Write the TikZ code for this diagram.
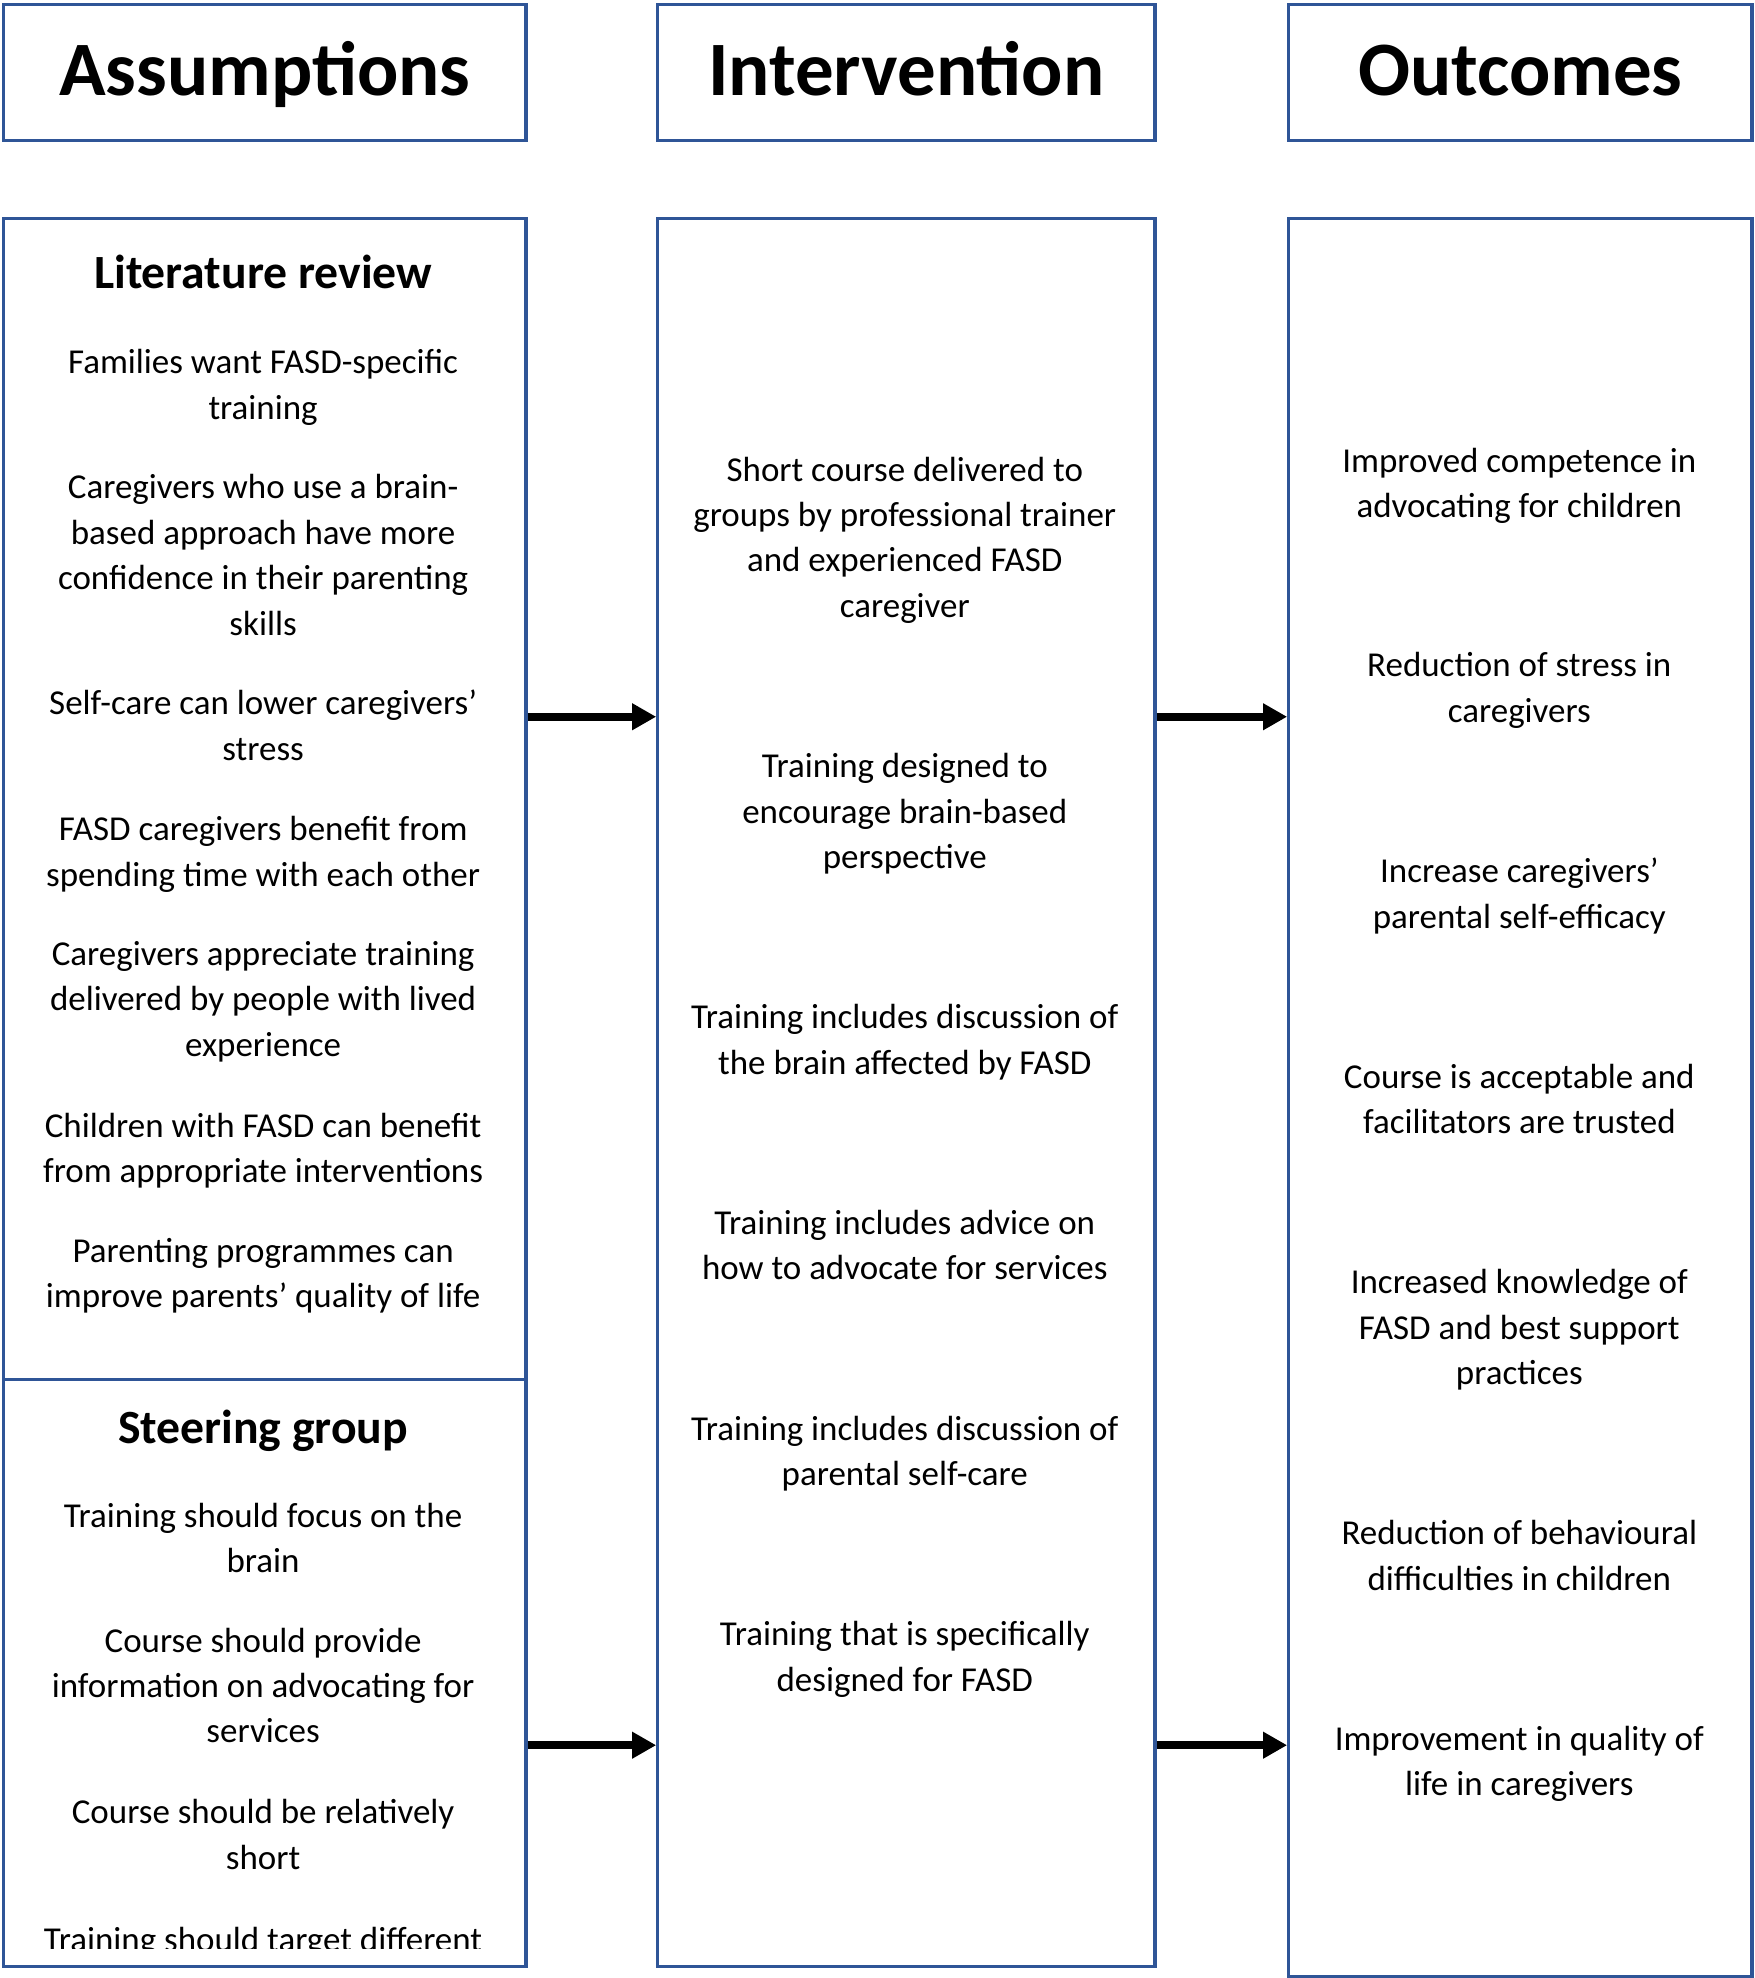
\documentclass[tikz,border=0pt]{standalone}
\usepackage{fontspec}
\setmainfont{Carlito}
\usetikzlibrary{arrows.meta}
\definecolor{bl}{HTML}{2F5597}
\begin{document}
\begin{tikzpicture}[x=0.5pt,y=-0.5pt,
 box/.style={draw=bl,line width=1.3pt,rectangle,inner sep=0pt,anchor=north west},
 head/.style={font=\fontsize{30.5}{36}\selectfont\bfseries,text height=20pt,text depth=1.4pt},
 ttl/.style={font=\fontsize{18.9}{23}\selectfont\bfseries,anchor=base,inner sep=0pt},
 txt/.style={font=\fontsize{13.85}{18}\selectfont,align=center,anchor=north,inner sep=0pt,execute at begin node=\strut},
 arr/.style={line width=3.2pt,-{Triangle[length=9.5pt,width=10pt]}}]
\useasboundingbox (0,0) rectangle (1390,1567.5);
% headers
\node[box,head,minimum width=207pt,minimum height=54pt] (hA) at (1.5,2) {Assumptions};
\node[box,head,minimum width=197pt,minimum height=54pt] (hI) at (520,2) {Intervention};
\node[box,head,minimum width=183.5pt,minimum height=54pt] (hO) at (1020,2) {Outcomes};
% column boxes
\node[box,minimum width=207pt,minimum height=460pt] (lit) at (1.5,172) {};
\node[box,minimum width=207pt,minimum height=232.5pt] (steer) at (1.5,1092) {};
\node[box,minimum width=197pt,minimum height=692.5pt] (inter) at (520,172) {};
\node[box,minimum width=183.5pt,minimum height=696.5pt] (outc) at (1020,172) {};
% left column
\node[ttl] (tLit) at (208.5,229) {Literature review};
\node[txt] (l1) at (208.5,276.6) {Families want FASD-specific\\training};
\node[txt] (l2) at (208.5,375.6) {Caregivers who use a brain-\\based approach have more\\confidence in their parenting\\skills};
\node[txt] (l3) at (208.5,546.6) {Self-care can lower caregivers’\\stress};
\node[txt] (l4) at (208.5,646.6) {FASD caregivers benefit from\\spending time with each other};
\node[txt] (l5) at (208.5,745.6) {Caregivers appreciate training\\delivered by people with lived\\experience};
\node[txt] (l6) at (208.5,881.6) {Children with FASD can benefit\\from appropriate interventions};
\node[txt] (l7) at (208.5,980.6) {Parenting programmes can\\improve parents’ quality of life};
\node[ttl] (tSt) at (208.5,1144) {Steering group};
\node[txt] (s1) at (208.5,1190.6) {Training should focus on the\\brain};
\node[txt] (s2) at (208.5,1289.6) {Course should provide\\information on advocating for\\services};
\node[txt] (s3) at (208.5,1425.6) {Course should be relatively\\short};
\begin{scope}
\clip (2,1092) rectangle (415,1544);
\node[txt] (s4) at (208.5,1520.6) {Training should target different};
\end{scope}
% middle column
\node[txt] (m1) at (717,361.6) {Short course delivered to\\groups by professional trainer\\and experienced FASD\\caregiver};
\node[txt] (m2) at (717,596.6) {Training designed to\\encourage brain-based\\perspective};
\node[txt] (m3) at (717,795.6) {Training includes discussion of\\the brain affected by FASD};
\node[txt] (m4) at (717,958.6) {Training includes advice on\\how to advocate for services};
\node[txt] (m5) at (717,1121.6) {Training includes discussion of\\parental self-care};
\node[txt] (m6) at (717,1284.6) {Training that is specifically\\designed for FASD};
% right column
\node[txt] (o1) at (1204,354.6) {Improved competence in\\advocating for children};
\node[txt] (o2) at (1204,516.6) {Reduction of stress in\\caregivers};
\node[txt] (o3) at (1204,679.6) {Increase caregivers’\\parental self-efficacy};
\node[txt] (o4) at (1204,842.6) {Course is acceptable and\\facilitators are trusted};
\node[txt] (o5) at (1204,1005.6) {Increased knowledge of\\FASD and best support\\practices};
\node[txt] (o6) at (1204,1204.6) {Reduction of behavioural\\difficulties in children};
\node[txt] (o7) at (1204,1367.6) {Improvement in quality of\\life in caregivers};
% arrows
\coordinate (r1) at (0,568);
\coordinate (r2) at (0,1383);
\draw[arr] (lit.east |- r1) -- (inter.west |- r1);
\draw[arr] (inter.east |- r1) -- (outc.west |- r1);
\draw[arr] (steer.east |- r2) -- (inter.west |- r2);
\draw[arr] (inter.east |- r2) -- (outc.west |- r2);
\end{tikzpicture}
\end{document}
